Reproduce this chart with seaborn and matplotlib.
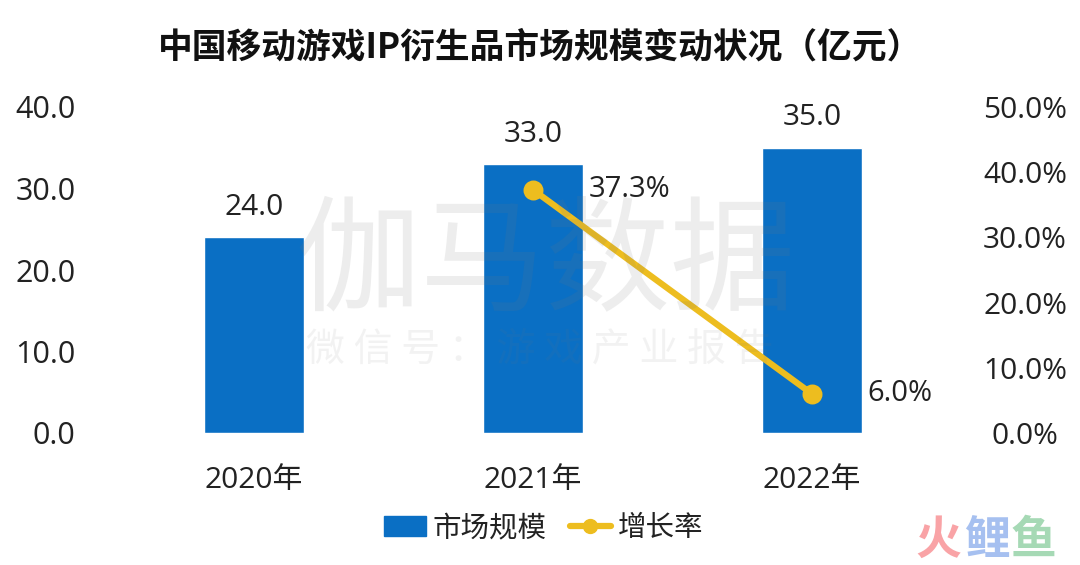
import matplotlib
matplotlib.use("Agg")
import matplotlib.pyplot as plt
import pandas as pd
import seaborn as sns
from matplotlib.lines import Line2D
from matplotlib.patches import Patch

years = ["2020年", "2021年", "2022年"]
market_size = [24.0, 33.0, 35.0]
growth = [None, 37.3, 6.0]
left_ticks = [0, 10, 20, 30, 40]
right_ticks = [0, 10, 20, 30, 40, 50]

BLUE = "#0A6FC4"
YELLOW = "#EDBD1F"
INK = "#222222"
W, H = 1080, 565

sns.set_theme(style="white")
plt.rcParams["font.family"] = ["Open Sans", "Noto Sans CJK SC", "DejaVu Sans"]
CJK = ["Noto Sans CJK SC", "DejaVu Sans"]

df = pd.DataFrame({"year": years, "size": market_size, "growth": growth})
df["growth"] = df["growth"].astype(float)

fig = plt.figure(figsize=(W / 100, H / 100), dpi=100)
# plot area in pixels: x 114-952, y 107-433
ax = fig.add_axes([114.5 / W, 1 - 433 / H, 837 / W, 326 / H])

sns.barplot(data=df, x="year", y="size", color=BLUE, saturation=1, width=0.357, ax=ax)
ax.set_ylim(0, 40)
ax.set_yticks(left_ticks)
ax.set_yticklabels([f"{t:.1f}" for t in left_ticks])
ax.set_xlabel("")
ax.set_ylabel("")
ax.tick_params(axis="y", length=0, labelsize=22, pad=28, colors=INK)
ax.tick_params(axis="x", length=0, labelsize=21.5, pad=24, colors=INK)
ax.bar_label(ax.containers[0], fmt="%.1f", padding=11, fontsize=21.5, color=INK)

ax2 = ax.twinx()
sns.pointplot(data=df, x="year", y="growth", color=YELLOW, markers="o",
              markersize=11, linewidth=4.5, errorbar=None, ax=ax2)
ax2.set_ylim(0, 50)
ax2.set_yticks(right_ticks)
ax2.set_yticklabels([f"{t:.1f}%" for t in right_ticks], ha="center")
ax2.set_ylabel("")
ax2.tick_params(axis="y", length=0, labelsize=21.5, pad=53, colors=INK)
ax2.annotate("37.3%", (1, 37.3), xytext=(40, 0), textcoords="offset points",
             fontsize=21, color=INK, va="center")
ax2.annotate("6.0%", (2, 6.0), xytext=(40, 0), textcoords="offset points",
             fontsize=21, color=INK, va="center")

sns.despine(ax=ax, left=True, bottom=True)
sns.despine(ax=ax2, left=True, bottom=True, right=True)
ax.patch.set_alpha(0)

fig.text(540 / W, 1 - 47 / H, "中国移动游戏IP衍生品市场规模变动状况（亿元）",
         ha="center", va="center", fontsize=25, fontweight="bold", color="#111111", family=CJK)

# watermark
fig.text(545 / W, 1 - 265 / H, "伽马数据", ha="center", va="center", fontsize=90,
         color="#777777", alpha=0.13, zorder=10, family=CJK)
fig.text(540 / W, 1 - 350 / H, "微 信 号 ： 游 戏 产 业 报 告", ha="center", va="center", fontsize=28,
         color="#777777", alpha=0.09, zorder=10, family=CJK)
for x_px, ch, col in [(938, "火", "#F9A3A6"), (987, "鲤", "#A6C0F0"), (1033, "鱼", "#A6D9B5")]:
    fig.text(x_px / W, 1 - 541 / H, ch, ha="center", va="center", fontsize=33,
             fontweight="bold", color=col, family=CJK)

handles = [Patch(color=BLUE, label="市场规模"),
           Line2D([0], [0], color=YELLOW, lw=4.5, marker="o", markersize=10, label="增长率")]
fig.legend(handles=handles, loc="center", bbox_to_anchor=(544 / W, 1 - 528 / H), ncol=2,
           frameon=False, handlelength=1.45, handletextpad=0.25,
           columnspacing=0.8, labelcolor=INK, prop={"family": CJK, "size": 20.5})

fig.savefig("out.png", dpi=100)
